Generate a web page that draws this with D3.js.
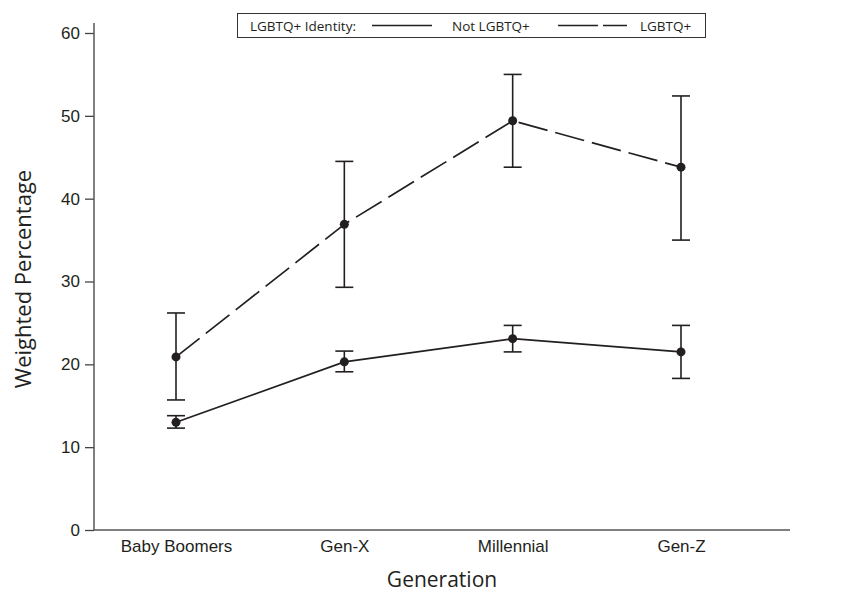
<!DOCTYPE html>
<html>
<head>
<meta charset="utf-8">
<script src="https://cdn.jsdelivr.net/npm/d3@7"></script>
<style>
  body { margin: 0; background: #fff; }
  svg { font-family: "Open Sans", sans-serif; }
</style>
</head>
<body>
<div id="chart"></div>
<script>
// chart size - same as the window
var width = 845,
    height = 599;

// data
var generations = ["Baby Boomers", "Gen-X", "Millennial", "Gen-Z"];
var notLgbtq = [13.0, 20.3, 23.1, 21.5];
var notLgbtqLow = [12.3, 19.1, 21.5, 18.3];
var notLgbtqHigh = [13.8, 21.6, 24.7, 24.7];
var lgbtq = [20.9, 36.9, 49.4, 43.8];
var lgbtqLow = [15.7, 29.3, 43.8, 35.0];
var lgbtqHigh = [26.2, 44.5, 55.0, 52.4];
var yTicks = [0, 10, 20, 30, 40, 50, 60];

var series = [
  { name: "Not LGBTQ+", values: notLgbtq, low: notLgbtqLow, high: notLgbtqHigh, dash: null },
  { name: "LGBTQ+", values: lgbtq, low: lgbtqLow, high: lgbtqHigh, dash: "30,8" }
];

var axisX = 94, axisBottom = 530;
var ink = "#231f20";

var svg = d3.select("#chart")
  .append("svg")
  .attr("width", width)
  .attr("height", height);

var x = d3.scalePoint()
  .domain(generations)
  .range([176, 681]);

var y = d3.scaleLinear()
  .domain([0, 60])
  .range([axisBottom, 33]);

// y axis
var yAxis = svg.append("g")
  .attr("transform", "translate(" + axisX + ",0)")
  .call(d3.axisLeft(y).tickValues(yTicks).tickSize(9).tickSizeOuter(0).tickPadding(5));
yAxis.select(".domain").remove();
yAxis.selectAll("line").attr("stroke", "#444").attr("stroke-width", 1.3);
yAxis.selectAll("text").attr("font-size", 17).attr("fill", ink);
svg.append("line")
  .attr("x1", axisX).attr("x2", axisX)
  .attr("y1", 23).attr("y2", axisBottom)
  .attr("stroke", "#555").attr("stroke-width", 1.5);

// x axis - no tick marks
var xAxis = svg.append("g")
  .attr("transform", "translate(0," + axisBottom + ")")
  .call(d3.axisBottom(x).tickSize(0).tickPadding(10));
xAxis.select(".domain").remove();
xAxis.selectAll("text").attr("font-size", 17).attr("fill", ink);
svg.append("line")
  .attr("x1", axisX).attr("x2", 790)
  .attr("y1", axisBottom).attr("y2", axisBottom)
  .attr("stroke", "#555").attr("stroke-width", 1.5);

// axis titles
svg.append("text")
  .attr("x", 442).attr("y", 587)
  .attr("text-anchor", "middle")
  .attr("font-size", 21).attr("fill", ink)
  .text("Generation");
svg.append("text")
  .attr("transform", "translate(31,279) rotate(-90)")
  .attr("text-anchor", "middle")
  .attr("font-size", 22).attr("fill", ink)
  .text("Weighted Percentage");

var line = d3.line()
  .x(function(d, i) { return x(generations[i]); })
  .y(function(d) { return y(d); });

series.forEach(function(s) {
  svg.append("path")
    .datum(s.values)
    .attr("d", line)
    .attr("fill", "none")
    .attr("stroke", ink)
    .attr("stroke-width", 1.7)
    .attr("stroke-dasharray", s.dash);

  var bars = svg.append("g").selectAll("g")
    .data(generations)
    .enter().append("g")
    .attr("stroke", ink)
    .attr("stroke-width", 1.6);
  bars.append("line")
    .attr("x1", function(d) { return x(d); })
    .attr("x2", function(d) { return x(d); })
    .attr("y1", function(d, i) { return y(s.low[i]); })
    .attr("y2", function(d, i) { return y(s.high[i]); });
  bars.append("line")
    .attr("x1", function(d) { return x(d) - 9; })
    .attr("x2", function(d) { return x(d) + 9; })
    .attr("y1", function(d, i) { return y(s.low[i]); })
    .attr("y2", function(d, i) { return y(s.low[i]); });
  bars.append("line")
    .attr("x1", function(d) { return x(d) - 9; })
    .attr("x2", function(d) { return x(d) + 9; })
    .attr("y1", function(d, i) { return y(s.high[i]); })
    .attr("y2", function(d, i) { return y(s.high[i]); });

  svg.append("g").selectAll("circle")
    .data(s.values)
    .enter().append("circle")
    .attr("cx", function(d, i) { return x(generations[i]); })
    .attr("cy", function(d) { return y(d); })
    .attr("r", 4.5)
    .attr("fill", ink);
});

// legend box at the top
var legend = svg.append("g");
legend.append("rect")
  .attr("x", 237.5).attr("y", 13.5)
  .attr("width", 468).attr("height", 24)
  .attr("fill", "#fff").attr("stroke", "#333").attr("stroke-width", 1);
legend.append("text")
  .attr("x", 250).attr("y", 30.5)
  .attr("font-size", 13.5).attr("fill", ink)
  .text("LGBTQ+ Identity:");
legend.append("line")
  .attr("x1", 372).attr("x2", 432).attr("y1", 25.5).attr("y2", 25.5)
  .attr("stroke", ink).attr("stroke-width", 1.5);
legend.append("text")
  .attr("x", 452).attr("y", 30.5)
  .attr("font-size", 13.5).attr("fill", ink)
  .text("Not LGBTQ+");
legend.append("line")
  .attr("x1", 558).attr("x2", 627).attr("y1", 25.5).attr("y2", 25.5)
  .attr("stroke", ink).attr("stroke-width", 1.5)
  .attr("stroke-dasharray", "40,5");
legend.append("text")
  .attr("x", 640).attr("y", 30.5)
  .attr("font-size", 13.5).attr("fill", ink)
  .text("LGBTQ+");
</script>
</body>
</html>
